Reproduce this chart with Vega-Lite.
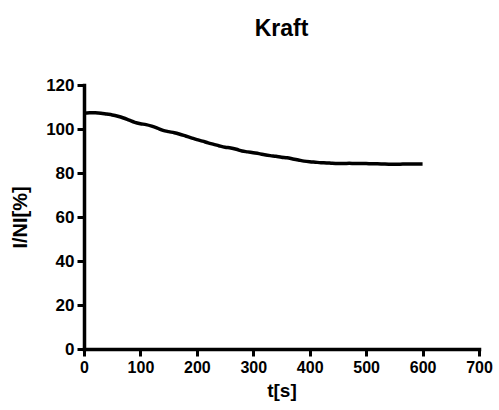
{
  "$schema": "https://vega.github.io/schema/vega-lite/v6.json",
  "autosize": {"type": "none"},
  "width": 395,
  "height": 264,
  "padding": {"left": 84, "top": 85, "right": 20, "bottom": 61},
  "background": "white",
  "title": {
    "text": "Kraft",
    "font": "Liberation Sans",
    "fontSize": 23,
    "fontWeight": "bold",
    "color": "black",
    "anchor": "middle",
    "offset": 35
  },
  "data": {
    "values": [
      {"t": 0, "v": 107.2}, {"t": 10, "v": 107.4}, {"t": 20, "v": 107.4}, {"t": 30, "v": 107.2},
      {"t": 40, "v": 106.8}, {"t": 50, "v": 106.4}, {"t": 60, "v": 105.8}, {"t": 70, "v": 105.0},
      {"t": 80, "v": 104.0}, {"t": 90, "v": 103.0}, {"t": 100, "v": 102.4}, {"t": 110, "v": 102.0},
      {"t": 120, "v": 101.3}, {"t": 130, "v": 100.4}, {"t": 140, "v": 99.4}, {"t": 150, "v": 98.8},
      {"t": 160, "v": 98.3}, {"t": 170, "v": 97.6}, {"t": 180, "v": 96.8}, {"t": 190, "v": 96.0},
      {"t": 200, "v": 95.2}, {"t": 210, "v": 94.5}, {"t": 220, "v": 93.7}, {"t": 230, "v": 93.0},
      {"t": 240, "v": 92.3}, {"t": 250, "v": 91.7}, {"t": 260, "v": 91.4}, {"t": 270, "v": 90.8},
      {"t": 280, "v": 90.0}, {"t": 290, "v": 89.6}, {"t": 300, "v": 89.2}, {"t": 310, "v": 88.8},
      {"t": 320, "v": 88.3}, {"t": 330, "v": 87.9}, {"t": 340, "v": 87.6}, {"t": 350, "v": 87.2},
      {"t": 360, "v": 86.9}, {"t": 370, "v": 86.4}, {"t": 380, "v": 85.9}, {"t": 390, "v": 85.4},
      {"t": 400, "v": 85.1}, {"t": 410, "v": 84.9}, {"t": 420, "v": 84.7}, {"t": 430, "v": 84.6},
      {"t": 440, "v": 84.4}, {"t": 450, "v": 84.3}, {"t": 460, "v": 84.3}, {"t": 470, "v": 84.4},
      {"t": 480, "v": 84.3}, {"t": 490, "v": 84.3}, {"t": 500, "v": 84.3}, {"t": 510, "v": 84.2},
      {"t": 520, "v": 84.2}, {"t": 530, "v": 84.1}, {"t": 540, "v": 84.0}, {"t": 550, "v": 84.0},
      {"t": 560, "v": 84.0}, {"t": 570, "v": 84.1}, {"t": 580, "v": 84.1}, {"t": 590, "v": 84.1},
      {"t": 600, "v": 84.1}
    ]
  },
  "mark": {"type": "line", "color": "black", "strokeWidth": 3.5, "interpolate": "monotone"},
  "encoding": {
    "x": {
      "field": "t",
      "type": "quantitative",
      "scale": {"domain": [0, 700], "nice": false, "zero": true},
      "axis": {"title": "t[s]", "values": [0, 100, 200, 300, 400, 500, 600, 700]}
    },
    "y": {
      "field": "v",
      "type": "quantitative",
      "scale": {"domain": [0, 120], "nice": false},
      "axis": {"title": "I/NI[%]", "values": [0, 20, 40, 60, 80, 100, 120], "labelFontSize": 17, "titleFontSize": 20}
    }
  },
  "config": {
    "view": {"stroke": null},
    "axis": {
      "grid": false,
      "domainColor": "black",
      "domainWidth": 3.5,
      "domainCap": "square",
      "tickColor": "black",
      "tickWidth": 3,
      "tickSize": 7,
      "labelFont": "Liberation Sans",
      "labelFontWeight": "bold",
      "labelFontSize": 16,
      "labelColor": "black",
      "labelPadding": 3,
      "titleFont": "Liberation Sans",
      "titleFontWeight": "bold",
      "titleFontSize": 19,
      "titleColor": "black"
    },
    "axisX": {"titlePadding": 6, "labelFlush": false},
    "axisY": {"titlePadding": 15, "labelFlush": false}
  }
}
